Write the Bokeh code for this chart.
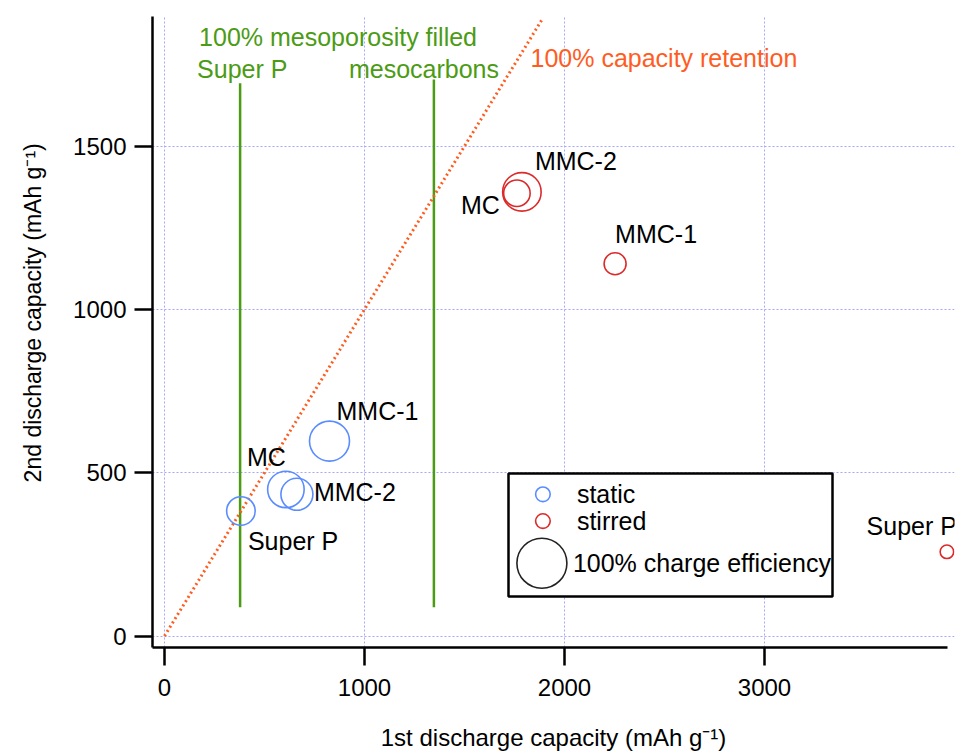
from bokeh.plotting import figure
from bokeh.models import ColumnDataSource, FixedTicker, Range1d, LinearAxis
from bokeh.core.properties import value
from bokeh.embed import file_html
from bokeh.resources import INLINE

FONT = "Liberation Sans"

# ---------------- data ----------------
samples = ["Super P", "MC", "MMC-2", "MMC-1"]
static_first = [382, 607, 662, 825]          # 1st discharge capacity (mAh/g)
static_second = [383, 449, 434, 597]         # 2nd discharge capacity (mAh/g)
static_eff = [57, 73, 64, 80]                # charge efficiency (%)
stirred_first = [3912, 1762, 1787, 2253]
stirred_second = [258, 1356, 1360, 1140]
stirred_eff = [27, 53, 77, 44]

mesopore_names = ["Super P", "mesocarbons"]
mesopore_x = [378, 1347]
mesopore_y_low = [88, 88]
mesopore_y_high = [1693, 1704]

retention_x = [0, 1890]
retention_y = [0, 1890]

x_ticks = [0, 1000, 2000, 3000]
y_ticks = [0, 500, 1000, 1500]

legend_labels = ["static", "stirred", "100% charge efficiency"]
x_title = "1st discharge capacity (mAh g\u207b\u00b9)"
y_title = "2nd discharge capacity (mAh g\u207b\u00b9)"

# ---------------- style ----------------
BLUE = "#5a8cff"
RED = "#dc2a2a"
GREEN = "#4b9b14"
ORANGE = "#ff5c1f"
GRID = "#a6a6ff"
FULL_EFF_DIAM = 50  # px diameter of a 100% efficiency circle
TXT = "25px"

p = figure(width=956, height=753, output_backend="svg", toolbar_location=None,
           x_range=Range1d(-60, 3950), y_range=Range1d(-35, 1897),
           min_border_left=152, min_border_right=2, min_border_top=16,
           min_border_bottom=105)
p.outline_line_color = None
p.background_fill_color = "white"

for ax in (p.xaxis[0], p.yaxis[0]):
    ax.axis_line_width = 2.5
    ax.axis_line_color = "black"
    ax.major_tick_line_width = 2.5
    ax.major_tick_line_color = "black"
    ax.major_tick_out = 18
    ax.major_tick_in = 0
    ax.minor_tick_line_color = None
    ax.major_label_text_font = FONT
    ax.major_label_text_font_size = "24px"
    ax.major_label_text_color = "black"
    ax.axis_label_text_font = FONT
    ax.axis_label_text_font_style = "normal"
    ax.axis_label_text_color = "black"

p.yaxis.axis_label_text_font_size = "23px"
p.xaxis.ticker = FixedTicker(ticks=x_ticks)
p.yaxis.ticker = FixedTicker(ticks=y_ticks)
p.xaxis.bounds = (-60, 3913)
p.xaxis.major_label_standoff = 13
p.yaxis.major_label_standoff = 8
p.yaxis.axis_label_standoff = 24
p.yaxis.axis_label = "\u00a0" * 6 + y_title

# x-axis title carried by a tick-less second axis stacked under the first
title_axis = LinearAxis(ticker=FixedTicker(ticks=[]), axis_line_color=None,
                        major_tick_line_color=None, minor_tick_line_color=None,
                        major_tick_out=0, major_tick_in=0,
                        axis_label=x_title, axis_label_standoff=25,
                        axis_label_text_font=FONT, axis_label_text_font_size="24px",
                        axis_label_text_font_style="normal", axis_label_text_color="black")
p.add_layout(title_axis, "below")

p.xgrid.ticker = FixedTicker(ticks=x_ticks)
p.ygrid.ticker = FixedTicker(ticks=y_ticks)
for g in (p.xgrid[0], p.ygrid[0]):
    g.grid_line_color = GRID
    g.grid_line_dash = "2 2"
    g.grid_line_width = 1

# reference lines
p.segment(x0=mesopore_x, y0=mesopore_y_low, x1=mesopore_x, y1=mesopore_y_high,
          line_color=GREEN, line_width=2.5)
p.line(retention_x, retention_y, line_color=ORANGE, line_width=3, line_dash="2 3")

# data circles
static_src = ColumnDataSource(dict(
    x=static_first, y=static_second, name=samples,
    size=[e / 100 * FULL_EFF_DIAM for e in static_eff],
    dx=[7, -39, 17, 7], dy=[30, -32, -2, -30],
    align=["left", "left", "left", "left"]))
stirred_src = ColumnDataSource(dict(
    x=stirred_first, y=stirred_second, name=samples,
    size=[e / 100 * FULL_EFF_DIAM for e in stirred_eff],
    dx=[10, -17, 13, 0], dy=[-26, 12, -31, -30],
    align=["right", "right", "left", "left"]))

p.scatter("x", "y", size="size", source=static_src, marker="circle",
          fill_color=None, line_color=BLUE, line_width=1.6)
p.scatter("x", "y", size="size", source=stirred_src, marker="circle",
          fill_color=None, line_color=RED, line_width=1.6)

for src in (static_src, stirred_src):
    p.text("x", "y", text="name", source=src, x_offset="dx", y_offset="dy",
           text_align="align", text_baseline="middle",
           text_font=value(FONT), text_font_size=value(TXT), text_color="black")

# annotation texts
p.text(x=[mesopore_x[0]], y=[mesopore_y_high[0]], text=["100% mesoporosity filled"],
       x_offset=-41, y_offset=-46, text_align="left", text_baseline="middle",
       text_font=value(FONT), text_font_size=value(TXT), text_color=GREEN)
p.text(x=mesopore_x, y=mesopore_y_high, text=mesopore_names,
       x_offset=[-43, -85], y_offset=[-14, -11], text_align="left", text_baseline="middle",
       text_font=value(FONT), text_font_size=value(TXT), text_color=GREEN)
p.text(x=[retention_x[1]], y=[retention_y[1]], text=["100% capacity retention"],
       x_offset=-12, y_offset=39, text_align="left", text_baseline="middle",
       text_font=value(FONT), text_font_size=value(TXT), text_color=ORANGE)

# legend (drawn by hand to allow different marker sizes)
p.quad(left=[1720], right=[3340], bottom=[121], top=[498],
       fill_color="white", line_color="black", line_width=2.5)
p.scatter(x=[1892], y=[434], size=14.6, marker="circle", fill_color=None,
          line_color=BLUE, line_width=1.6)
p.scatter(x=[1892], y=[352], size=14.6, marker="circle", fill_color=None,
          line_color=RED, line_width=1.6)
p.scatter(x=[1887], y=[223], size=FULL_EFF_DIAM, marker="circle", fill_color=None,
          line_color="#222222", line_width=1.6)
p.text(x=[2062, 2062, 2042], y=[434, 352, 223], text=legend_labels,
       text_align="left", text_baseline="middle",
       text_font=value(FONT), text_font_size=value(TXT), text_color="black")

open("out.html", "w").write(file_html(p, INLINE))
